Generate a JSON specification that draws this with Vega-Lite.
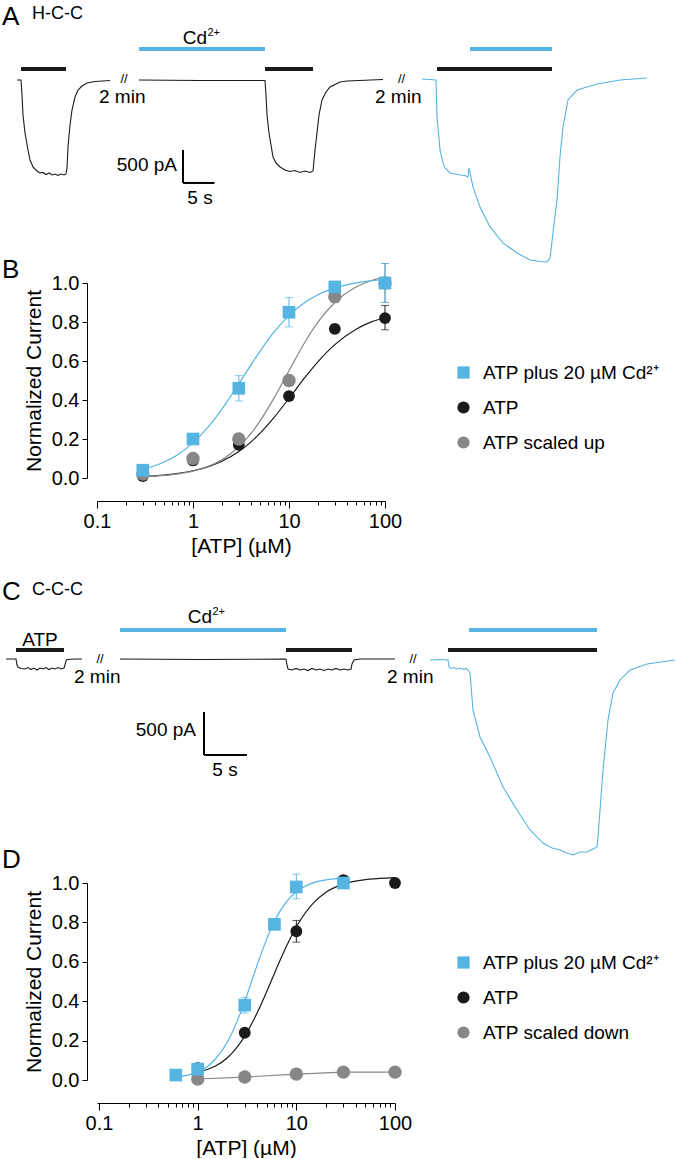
{
  "$schema": "https://vega.github.io/schema/vega-lite/v6.json",
  "background": "white",
  "padding": {"left": 2, "top": 0, "right": 0, "bottom": 0},
  "spacing": 0,
  "bounds": "flush",
  "resolve": {
    "scale": {"x": "independent", "y": "independent", "color": "independent", "shape": "independent", "stroke": "independent", "fill": "independent", "size": "independent"},
    "legend": {"color": "independent", "shape": "independent"}
  },
  "config": {
    "view": {"stroke": null},
    "font": "Liberation Sans",
    "axis": {
      "labelFont": "Liberation Sans", "titleFont": "Liberation Sans",
      "labelColor": "#000", "titleColor": "#000", "domainColor": "#000", "tickColor": "#000",
      "grid": false, "labelFontSize": 20, "titleFontSize": 21, "titleFontWeight": "normal",
      "domainWidth": 1, "tickWidth": 1, "labelOverlap": false
    },
    "legend": {"labelFont": "Liberation Sans", "labelLimit": 320},
    "text": {"font": "Liberation Sans", "color": "#000"}
  },
  "datasets": {
    "traceA": [
      {"sweep": "a1", "solution": "ATP", "t": 0, "pA": 0},
      {"sweep": "a1", "solution": "ATP", "t": 0.635, "pA": 0},
      {"sweep": "a1", "solution": "ATP", "t": 0.794, "pA": -227},
      {"sweep": "a1", "solution": "ATP", "t": 0.952, "pA": -530},
      {"sweep": "a1", "solution": "ATP", "t": 1.270, "pA": -803},
      {"sweep": "a1", "solution": "ATP", "t": 1.746, "pA": -1061},
      {"sweep": "a1", "solution": "ATP", "t": 2.063, "pA": -1212},
      {"sweep": "a1", "solution": "ATP", "t": 2.540, "pA": -1318},
      {"sweep": "a1", "solution": "ATP", "t": 3.175, "pA": -1379},
      {"sweep": "a1", "solution": "ATP", "t": 3.651, "pA": -1409},
      {"sweep": "a1", "solution": "ATP", "t": 4.127, "pA": -1401},
      {"sweep": "a1", "solution": "ATP", "t": 4.603, "pA": -1432},
      {"sweep": "a1", "solution": "ATP", "t": 5.079, "pA": -1409},
      {"sweep": "a1", "solution": "ATP", "t": 5.556, "pA": -1439},
      {"sweep": "a1", "solution": "ATP", "t": 6.032, "pA": -1424},
      {"sweep": "a1", "solution": "ATP", "t": 6.508, "pA": -1447},
      {"sweep": "a1", "solution": "ATP", "t": 6.984, "pA": -1424},
      {"sweep": "a1", "solution": "ATP", "t": 7.460, "pA": -1439},
      {"sweep": "a1", "solution": "ATP", "t": 7.778, "pA": -1424},
      {"sweep": "a1", "solution": "ATP", "t": 7.937, "pA": -1333},
      {"sweep": "a1", "solution": "ATP", "t": 8.095, "pA": -1015},
      {"sweep": "a1", "solution": "ATP", "t": 8.413, "pA": -682},
      {"sweep": "a1", "solution": "ATP", "t": 8.730, "pA": -455},
      {"sweep": "a1", "solution": "ATP", "t": 9.206, "pA": -258},
      {"sweep": "a1", "solution": "ATP", "t": 9.683, "pA": -152},
      {"sweep": "a1", "solution": "ATP", "t": 10.317, "pA": -91},
      {"sweep": "a1", "solution": "ATP", "t": 11.111, "pA": -45},
      {"sweep": "a1", "solution": "ATP", "t": 12.381, "pA": -23},
      {"sweep": "a1", "solution": "ATP", "t": 14.762, "pA": -8},
      {"sweep": "a2", "solution": "ATP", "t": 19.365, "pA": 0},
      {"sweep": "a2", "solution": "ATP", "t": 29.048, "pA": -8},
      {"sweep": "a2", "solution": "ATP", "t": 39.365, "pA": -8},
      {"sweep": "a2", "solution": "ATP", "t": 39.524, "pA": -227},
      {"sweep": "a2", "solution": "ATP", "t": 39.683, "pA": -530},
      {"sweep": "a2", "solution": "ATP", "t": 40.0, "pA": -803},
      {"sweep": "a2", "solution": "ATP", "t": 40.317, "pA": -985},
      {"sweep": "a2", "solution": "ATP", "t": 40.635, "pA": -1167},
      {"sweep": "a2", "solution": "ATP", "t": 41.111, "pA": -1257},
      {"sweep": "a2", "solution": "ATP", "t": 41.746, "pA": -1318},
      {"sweep": "a2", "solution": "ATP", "t": 42.540, "pA": -1364},
      {"sweep": "a2", "solution": "ATP", "t": 43.333, "pA": -1386},
      {"sweep": "a2", "solution": "ATP", "t": 44.127, "pA": -1371},
      {"sweep": "a2", "solution": "ATP", "t": 44.921, "pA": -1401},
      {"sweep": "a2", "solution": "ATP", "t": 45.714, "pA": -1379},
      {"sweep": "a2", "solution": "ATP", "t": 46.508, "pA": -1401},
      {"sweep": "a2", "solution": "ATP", "t": 46.984, "pA": -1379},
      {"sweep": "a2", "solution": "ATP", "t": 47.302, "pA": -1061},
      {"sweep": "a2", "solution": "ATP", "t": 47.619, "pA": -803},
      {"sweep": "a2", "solution": "ATP", "t": 47.937, "pA": -530},
      {"sweep": "a2", "solution": "ATP", "t": 48.413, "pA": -303},
      {"sweep": "a2", "solution": "ATP", "t": 49.048, "pA": -182},
      {"sweep": "a2", "solution": "ATP", "t": 49.683, "pA": -106},
      {"sweep": "a2", "solution": "ATP", "t": 51.270, "pA": -30},
      {"sweep": "a2", "solution": "ATP", "t": 52.381, "pA": -15},
      {"sweep": "a2", "solution": "ATP", "t": 58.095, "pA": 8},
      {"sweep": "a3", "solution": "ATP + Cd2+", "t": 64.286, "pA": 15},
      {"sweep": "a3", "solution": "ATP + Cd2+", "t": 66.508, "pA": 0},
      {"sweep": "a3", "solution": "ATP + Cd2+", "t": 66.667, "pA": -561},
      {"sweep": "a3", "solution": "ATP + Cd2+", "t": 67.143, "pA": -1061},
      {"sweep": "a3", "solution": "ATP + Cd2+", "t": 67.619, "pA": -1257},
      {"sweep": "a3", "solution": "ATP + Cd2+", "t": 67.937, "pA": -1333},
      {"sweep": "a3", "solution": "ATP + Cd2+", "t": 68.730, "pA": -1409},
      {"sweep": "a3", "solution": "ATP + Cd2+", "t": 69.524, "pA": -1424},
      {"sweep": "a3", "solution": "ATP + Cd2+", "t": 70.317, "pA": -1439},
      {"sweep": "a3", "solution": "ATP + Cd2+", "t": 71.111, "pA": -1447},
      {"sweep": "a3", "solution": "ATP + Cd2+", "t": 71.587, "pA": -1470},
      {"sweep": "a3", "solution": "ATP + Cd2+", "t": 71.746, "pA": -1333},
      {"sweep": "a3", "solution": "ATP + Cd2+", "t": 72.381, "pA": -1621},
      {"sweep": "a3", "solution": "ATP + Cd2+", "t": 73.492, "pA": -1924},
      {"sweep": "a3", "solution": "ATP + Cd2+", "t": 75.079, "pA": -2227},
      {"sweep": "a3", "solution": "ATP + Cd2+", "t": 77.143, "pA": -2469},
      {"sweep": "a3", "solution": "ATP + Cd2+", "t": 79.365, "pA": -2621},
      {"sweep": "a3", "solution": "ATP + Cd2+", "t": 81.429, "pA": -2727},
      {"sweep": "a3", "solution": "ATP + Cd2+", "t": 83.016, "pA": -2750},
      {"sweep": "a3", "solution": "ATP + Cd2+", "t": 84.127, "pA": -2757},
      {"sweep": "a3", "solution": "ATP + Cd2+", "t": 84.603, "pA": -2697},
      {"sweep": "a3", "solution": "ATP + Cd2+", "t": 85.079, "pA": -2318},
      {"sweep": "a3", "solution": "ATP + Cd2+", "t": 85.714, "pA": -1818},
      {"sweep": "a3", "solution": "ATP + Cd2+", "t": 86.190, "pA": -1167},
      {"sweep": "a3", "solution": "ATP + Cd2+", "t": 86.667, "pA": -712},
      {"sweep": "a3", "solution": "ATP + Cd2+", "t": 87.460, "pA": -303},
      {"sweep": "a3", "solution": "ATP + Cd2+", "t": 88.889, "pA": -152},
      {"sweep": "a3", "solution": "ATP + Cd2+", "t": 92.063, "pA": -61},
      {"sweep": "a3", "solution": "ATP + Cd2+", "t": 95.714, "pA": 0},
      {"sweep": "a3", "solution": "ATP + Cd2+", "t": 100.0, "pA": 30}
    ],
    "barsA": [
      {"solution": "ATP", "start": 0.635, "end": 7.778, "level": 167},
      {"solution": "ATP", "start": 39.365, "end": 46.984, "level": 167},
      {"solution": "ATP", "start": 66.667, "end": 84.921, "level": 167},
      {"solution": "Cd2+", "start": 19.365, "end": 39.365, "level": 470},
      {"solution": "Cd2+", "start": 71.905, "end": 84.921, "level": 470}
    ],
    "scaleA": [
      {"t1": 26.349, "t2": 26.349, "p1": -1060, "p2": -1560},
      {"t1": 26.349, "t2": 31.349, "p1": -1560, "p2": -1560}
    ],
    "textA": [
      {"role": "letter", "label": "A", "t": -2.381, "pA": 833},
      {"role": "letter", "label": "B", "t": -2.381, "pA": -3000},
      {"role": "sub", "label": "H-C-C", "t": 2.381, "pA": 924},
      {"role": "rmid", "label": "Cd", "t": 30.159, "pA": 636},
      {"role": "sup", "label": "2+", "t": 30.238, "pA": 712},
      {"role": "lbase", "label": "2 min", "t": 13.016, "pA": -348},
      {"role": "lbase", "label": "2 min", "t": 56.825, "pA": -348},
      {"role": "brk", "label": "//", "t": 16.984, "pA": 10},
      {"role": "brk", "label": "//", "t": 61.032, "pA": 10},
      {"role": "rmid", "label": "500 pA", "t": 25.397, "pA": -1288},
      {"role": "cmid", "label": "5 s", "t": 29.048, "pA": -1788}
    ],
    "traceC": [
      {"sweep": "c1", "solution": "ATP", "t": 0, "pA": 0},
      {"sweep": "c1", "solution": "ATP", "t": 1.163, "pA": 0},
      {"sweep": "c1", "solution": "ATP", "t": 1.279, "pA": -70},
      {"sweep": "c1", "solution": "ATP", "t": 1.395, "pA": -93},
      {"sweep": "c1", "solution": "ATP", "t": 1.744, "pA": -110},
      {"sweep": "c1", "solution": "ATP", "t": 2.209, "pA": -116},
      {"sweep": "c1", "solution": "ATP", "t": 2.558, "pA": -99},
      {"sweep": "c1", "solution": "ATP", "t": 2.907, "pA": -122},
      {"sweep": "c1", "solution": "ATP", "t": 3.256, "pA": -105},
      {"sweep": "c1", "solution": "ATP", "t": 3.605, "pA": -128},
      {"sweep": "c1", "solution": "ATP", "t": 3.953, "pA": -105},
      {"sweep": "c1", "solution": "ATP", "t": 4.302, "pA": -116},
      {"sweep": "c1", "solution": "ATP", "t": 4.651, "pA": -99},
      {"sweep": "c1", "solution": "ATP", "t": 5.0, "pA": -122},
      {"sweep": "c1", "solution": "ATP", "t": 5.349, "pA": -105},
      {"sweep": "c1", "solution": "ATP", "t": 5.698, "pA": -116},
      {"sweep": "c1", "solution": "ATP", "t": 6.047, "pA": -99},
      {"sweep": "c1", "solution": "ATP", "t": 6.395, "pA": -116},
      {"sweep": "c1", "solution": "ATP", "t": 6.744, "pA": -105},
      {"sweep": "c1", "solution": "ATP", "t": 6.860, "pA": -70},
      {"sweep": "c1", "solution": "ATP", "t": 6.977, "pA": -23},
      {"sweep": "c1", "solution": "ATP", "t": 7.093, "pA": -6},
      {"sweep": "c1", "solution": "ATP", "t": 8.023, "pA": 0},
      {"sweep": "c1", "solution": "ATP", "t": 8.837, "pA": 0},
      {"sweep": "c2", "solution": "ATP", "t": 13.256, "pA": 0},
      {"sweep": "c2", "solution": "ATP", "t": 22.558, "pA": -6},
      {"sweep": "c2", "solution": "ATP", "t": 32.558, "pA": 0},
      {"sweep": "c2", "solution": "ATP", "t": 32.674, "pA": -70},
      {"sweep": "c2", "solution": "ATP", "t": 32.791, "pA": -116},
      {"sweep": "c2", "solution": "ATP", "t": 33.256, "pA": -128},
      {"sweep": "c2", "solution": "ATP", "t": 33.721, "pA": -110},
      {"sweep": "c2", "solution": "ATP", "t": 34.186, "pA": -128},
      {"sweep": "c2", "solution": "ATP", "t": 34.651, "pA": -116},
      {"sweep": "c2", "solution": "ATP", "t": 35.116, "pA": -134},
      {"sweep": "c2", "solution": "ATP", "t": 35.581, "pA": -110},
      {"sweep": "c2", "solution": "ATP", "t": 36.047, "pA": -128},
      {"sweep": "c2", "solution": "ATP", "t": 36.512, "pA": -116},
      {"sweep": "c2", "solution": "ATP", "t": 36.977, "pA": -134},
      {"sweep": "c2", "solution": "ATP", "t": 37.442, "pA": -116},
      {"sweep": "c2", "solution": "ATP", "t": 37.907, "pA": -128},
      {"sweep": "c2", "solution": "ATP", "t": 38.372, "pA": -110},
      {"sweep": "c2", "solution": "ATP", "t": 38.837, "pA": -128},
      {"sweep": "c2", "solution": "ATP", "t": 39.302, "pA": -116},
      {"sweep": "c2", "solution": "ATP", "t": 39.767, "pA": -128},
      {"sweep": "c2", "solution": "ATP", "t": 40.116, "pA": -116},
      {"sweep": "c2", "solution": "ATP", "t": 40.233, "pA": -58},
      {"sweep": "c2", "solution": "ATP", "t": 40.465, "pA": -12},
      {"sweep": "c2", "solution": "ATP", "t": 41.163, "pA": 0},
      {"sweep": "c2", "solution": "ATP", "t": 45.233, "pA": 0},
      {"sweep": "c3", "solution": "ATP + Cd2+", "t": 49.302, "pA": -12},
      {"sweep": "c3", "solution": "ATP + Cd2+", "t": 50.465, "pA": -6},
      {"sweep": "c3", "solution": "ATP + Cd2+", "t": 51.395, "pA": -12},
      {"sweep": "c3", "solution": "ATP + Cd2+", "t": 51.512, "pA": -93},
      {"sweep": "c3", "solution": "ATP + Cd2+", "t": 51.744, "pA": -110},
      {"sweep": "c3", "solution": "ATP + Cd2+", "t": 52.093, "pA": -99},
      {"sweep": "c3", "solution": "ATP + Cd2+", "t": 52.442, "pA": -116},
      {"sweep": "c3", "solution": "ATP + Cd2+", "t": 52.791, "pA": -105},
      {"sweep": "c3", "solution": "ATP + Cd2+", "t": 53.140, "pA": -122},
      {"sweep": "c3", "solution": "ATP + Cd2+", "t": 53.488, "pA": -110},
      {"sweep": "c3", "solution": "ATP + Cd2+", "t": 53.721, "pA": -128},
      {"sweep": "c3", "solution": "ATP + Cd2+", "t": 53.953, "pA": -163},
      {"sweep": "c3", "solution": "ATP + Cd2+", "t": 54.302, "pA": -593},
      {"sweep": "c3", "solution": "ATP + Cd2+", "t": 55.116, "pA": -907},
      {"sweep": "c3", "solution": "ATP + Cd2+", "t": 56.279, "pA": -1140},
      {"sweep": "c3", "solution": "ATP + Cd2+", "t": 57.791, "pA": -1488},
      {"sweep": "c3", "solution": "ATP + Cd2+", "t": 59.419, "pA": -1756},
      {"sweep": "c3", "solution": "ATP + Cd2+", "t": 60.930, "pA": -1988},
      {"sweep": "c3", "solution": "ATP + Cd2+", "t": 62.442, "pA": -2140},
      {"sweep": "c3", "solution": "ATP + Cd2+", "t": 63.488, "pA": -2198},
      {"sweep": "c3", "solution": "ATP + Cd2+", "t": 64.419, "pA": -2221},
      {"sweep": "c3", "solution": "ATP + Cd2+", "t": 65.233, "pA": -2256},
      {"sweep": "c3", "solution": "ATP + Cd2+", "t": 65.930, "pA": -2279},
      {"sweep": "c3", "solution": "ATP + Cd2+", "t": 66.744, "pA": -2244},
      {"sweep": "c3", "solution": "ATP + Cd2+", "t": 67.558, "pA": -2244},
      {"sweep": "c3", "solution": "ATP + Cd2+", "t": 68.256, "pA": -2209},
      {"sweep": "c3", "solution": "ATP + Cd2+", "t": 68.721, "pA": -2186},
      {"sweep": "c3", "solution": "ATP + Cd2+", "t": 68.837, "pA": -2070},
      {"sweep": "c3", "solution": "ATP + Cd2+", "t": 69.419, "pA": -1291},
      {"sweep": "c3", "solution": "ATP + Cd2+", "t": 70.0, "pA": -709},
      {"sweep": "c3", "solution": "ATP + Cd2+", "t": 70.581, "pA": -395},
      {"sweep": "c3", "solution": "ATP + Cd2+", "t": 71.395, "pA": -244},
      {"sweep": "c3", "solution": "ATP + Cd2+", "t": 72.558, "pA": -128},
      {"sweep": "c3", "solution": "ATP + Cd2+", "t": 74.535, "pA": -58},
      {"sweep": "c3", "solution": "ATP + Cd2+", "t": 77.791, "pA": -12}
    ],
    "barsC": [
      {"solution": "ATP", "start": 1.163, "end": 6.744, "level": 105},
      {"solution": "ATP", "start": 32.558, "end": 40.233, "level": 105},
      {"solution": "ATP", "start": 51.395, "end": 68.721, "level": 105},
      {"solution": "Cd2+", "start": 13.256, "end": 32.558, "level": 337},
      {"solution": "Cd2+", "start": 53.837, "end": 68.721, "level": 337}
    ],
    "scaleC": [
      {"t1": 23.023, "t2": 23.023, "p1": -616, "p2": -1116},
      {"t1": 23.023, "t2": 28.023, "p1": -1116, "p2": -1116}
    ],
    "textC": [
      {"role": "letter", "label": "C", "t": -0.465, "pA": 686},
      {"role": "letter", "label": "D", "t": -0.465, "pA": -2430},
      {"role": "sub", "label": "C-C-C", "t": 3.023, "pA": 744},
      {"role": "cmid", "label": "ATP", "t": 3.953, "pA": 221},
      {"role": "rmid", "label": "Cd", "t": 23.953, "pA": 488},
      {"role": "sup", "label": "2+", "t": 24.012, "pA": 547},
      {"role": "lbase", "label": "2 min", "t": 7.907, "pA": -279},
      {"role": "lbase", "label": "2 min", "t": 44.302, "pA": -279},
      {"role": "brk", "label": "//", "t": 10.930, "pA": 0},
      {"role": "brk", "label": "//", "t": 47.326, "pA": 0},
      {"role": "rmid", "label": "500 pA", "t": 22.093, "pA": -826},
      {"role": "cmid", "label": "5 s", "t": 25.465, "pA": -1291}
    ],
    "fitB": [
      {"series": "ATP", "atp": 0.3, "v": 0.008}, {"series": "ATP", "atp": 0.5, "v": 0.015}, {"series": "ATP", "atp": 0.7, "v": 0.024},
      {"series": "ATP", "atp": 1, "v": 0.037}, {"series": "ATP", "atp": 1.5, "v": 0.061}, {"series": "ATP", "atp": 2, "v": 0.086},
      {"series": "ATP", "atp": 3, "v": 0.136}, {"series": "ATP", "atp": 4, "v": 0.184}, {"series": "ATP", "atp": 5, "v": 0.23},
      {"series": "ATP", "atp": 7, "v": 0.311}, {"series": "ATP", "atp": 10, "v": 0.408}, {"series": "ATP", "atp": 15, "v": 0.522},
      {"series": "ATP", "atp": 20, "v": 0.596}, {"series": "ATP", "atp": 30, "v": 0.684}, {"series": "ATP", "atp": 50, "v": 0.763},
      {"series": "ATP", "atp": 70, "v": 0.798}, {"series": "ATP", "atp": 100, "v": 0.823},
      {"series": "ATP scaled up", "atp": 0.3, "v": 0.006}, {"series": "ATP scaled up", "atp": 0.5, "v": 0.013}, {"series": "ATP scaled up", "atp": 0.7, "v": 0.021},
      {"series": "ATP scaled up", "atp": 1, "v": 0.035}, {"series": "ATP scaled up", "atp": 1.5, "v": 0.063}, {"series": "ATP scaled up", "atp": 2, "v": 0.093},
      {"series": "ATP scaled up", "atp": 3, "v": 0.16}, {"series": "ATP scaled up", "atp": 4, "v": 0.227}, {"series": "ATP scaled up", "atp": 5, "v": 0.293},
      {"series": "ATP scaled up", "atp": 7, "v": 0.411}, {"series": "ATP scaled up", "atp": 10, "v": 0.55}, {"series": "ATP scaled up", "atp": 15, "v": 0.705},
      {"series": "ATP scaled up", "atp": 20, "v": 0.799}, {"series": "ATP scaled up", "atp": 30, "v": 0.9}, {"series": "ATP scaled up", "atp": 50, "v": 0.979},
      {"series": "ATP scaled up", "atp": 70, "v": 1.01}, {"series": "ATP scaled up", "atp": 100, "v": 1.03},
      {"series": "ATP plus 20 µM Cd²⁺", "atp": 0.3, "v": 0.044}, {"series": "ATP plus 20 µM Cd²⁺", "atp": 0.5, "v": 0.082}, {"series": "ATP plus 20 µM Cd²⁺", "atp": 0.7, "v": 0.121},
      {"series": "ATP plus 20 µM Cd²⁺", "atp": 1, "v": 0.18}, {"series": "ATP plus 20 µM Cd²⁺", "atp": 1.5, "v": 0.272}, {"series": "ATP plus 20 µM Cd²⁺", "atp": 2, "v": 0.353},
      {"series": "ATP plus 20 µM Cd²⁺", "atp": 3, "v": 0.483}, {"series": "ATP plus 20 µM Cd²⁺", "atp": 4, "v": 0.579}, {"series": "ATP plus 20 µM Cd²⁺", "atp": 5, "v": 0.651},
      {"series": "ATP plus 20 µM Cd²⁺", "atp": 7, "v": 0.749}, {"series": "ATP plus 20 µM Cd²⁺", "atp": 10, "v": 0.833}, {"series": "ATP plus 20 µM Cd²⁺", "atp": 15, "v": 0.904},
      {"series": "ATP plus 20 µM Cd²⁺", "atp": 20, "v": 0.94}, {"series": "ATP plus 20 µM Cd²⁺", "atp": 30, "v": 0.975}, {"series": "ATP plus 20 µM Cd²⁺", "atp": 50, "v": 1.001},
      {"series": "ATP plus 20 µM Cd²⁺", "atp": 70, "v": 1.011}, {"series": "ATP plus 20 µM Cd²⁺", "atp": 100, "v": 1.018}
    ],
    "ptsB": [
      {"series": "ATP", "atp": 0.3, "v": 0.01},
      {"series": "ATP", "atp": 1, "v": 0.09},
      {"series": "ATP", "atp": 3, "v": 0.17},
      {"series": "ATP", "atp": 10, "v": 0.42},
      {"series": "ATP", "atp": 30, "v": 0.765, "lo": 0.745, "hi": 0.785},
      {"series": "ATP", "atp": 100, "v": 0.82, "lo": 0.76, "hi": 0.885},
      {"series": "ATP scaled up", "atp": 0.3, "v": 0.02},
      {"series": "ATP scaled up", "atp": 1, "v": 0.1},
      {"series": "ATP scaled up", "atp": 3, "v": 0.2},
      {"series": "ATP scaled up", "atp": 10, "v": 0.5},
      {"series": "ATP scaled up", "atp": 30, "v": 0.93, "lo": 0.9, "hi": 0.96},
      {"series": "ATP scaled up", "atp": 100, "v": 1.0, "lo": 0.9, "hi": 1.1},
      {"series": "ATP plus 20 µM Cd²⁺", "atp": 0.3, "v": 0.04},
      {"series": "ATP plus 20 µM Cd²⁺", "atp": 1, "v": 0.2, "lo": 0.175, "hi": 0.225},
      {"series": "ATP plus 20 µM Cd²⁺", "atp": 3, "v": 0.46, "lo": 0.395, "hi": 0.525},
      {"series": "ATP plus 20 µM Cd²⁺", "atp": 10, "v": 0.85, "lo": 0.775, "hi": 0.925},
      {"series": "ATP plus 20 µM Cd²⁺", "atp": 30, "v": 0.98, "lo": 0.96, "hi": 1.0},
      {"series": "ATP plus 20 µM Cd²⁺", "atp": 100, "v": 1.0, "lo": 0.9, "hi": 1.1}
    ],
    "fitD": [
      {"series": "ATP", "atp": 1, "v": 0.04}, {"series": "ATP", "atp": 1.5, "v": 0.07}, {"series": "ATP", "atp": 2, "v": 0.113},
      {"series": "ATP", "atp": 2.5, "v": 0.166}, {"series": "ATP", "atp": 3, "v": 0.223}, {"series": "ATP", "atp": 4, "v": 0.34},
      {"series": "ATP", "atp": 5, "v": 0.448}, {"series": "ATP", "atp": 6, "v": 0.541}, {"series": "ATP", "atp": 7, "v": 0.619},
      {"series": "ATP", "atp": 8, "v": 0.683}, {"series": "ATP", "atp": 10, "v": 0.777}, {"series": "ATP", "atp": 15, "v": 0.9},
      {"series": "ATP", "atp": 20, "v": 0.953}, {"series": "ATP", "atp": 30, "v": 0.994}, {"series": "ATP", "atp": 50, "v": 1.017},
      {"series": "ATP", "atp": 70, "v": 1.023}, {"series": "ATP", "atp": 100, "v": 1.027},
      {"series": "ATP plus 20 µM Cd²⁺", "atp": 0.6, "v": 0.015}, {"series": "ATP plus 20 µM Cd²⁺", "atp": 0.8, "v": 0.025}, {"series": "ATP plus 20 µM Cd²⁺", "atp": 1, "v": 0.04},
      {"series": "ATP plus 20 µM Cd²⁺", "atp": 1.5, "v": 0.104}, {"series": "ATP plus 20 µM Cd²⁺", "atp": 2, "v": 0.193}, {"series": "ATP plus 20 µM Cd²⁺", "atp": 2.5, "v": 0.295},
      {"series": "ATP plus 20 µM Cd²⁺", "atp": 3, "v": 0.4}, {"series": "ATP plus 20 µM Cd²⁺", "atp": 4, "v": 0.582}, {"series": "ATP plus 20 µM Cd²⁺", "atp": 5, "v": 0.715},
      {"series": "ATP plus 20 µM Cd²⁺", "atp": 6, "v": 0.805}, {"series": "ATP plus 20 µM Cd²⁺", "atp": 7, "v": 0.866}, {"series": "ATP plus 20 µM Cd²⁺", "atp": 8, "v": 0.907},
      {"series": "ATP plus 20 µM Cd²⁺", "atp": 10, "v": 0.956}, {"series": "ATP plus 20 µM Cd²⁺", "atp": 15, "v": 1.002}, {"series": "ATP plus 20 µM Cd²⁺", "atp": 20, "v": 1.016},
      {"series": "ATP plus 20 µM Cd²⁺", "atp": 30, "v": 1.025}
    ],
    "ptsD": [
      {"series": "ATP scaled down", "atp": 1, "v": 0.005},
      {"series": "ATP scaled down", "atp": 3, "v": 0.015},
      {"series": "ATP scaled down", "atp": 10, "v": 0.03},
      {"series": "ATP scaled down", "atp": 30, "v": 0.04},
      {"series": "ATP scaled down", "atp": 100, "v": 0.04},
      {"series": "ATP", "atp": 1, "v": 0.06},
      {"series": "ATP", "atp": 3, "v": 0.24},
      {"series": "ATP", "atp": 10, "v": 0.755, "lo": 0.70, "hi": 0.81},
      {"series": "ATP", "atp": 30, "v": 1.015},
      {"series": "ATP", "atp": 100, "v": 1.0},
      {"series": "ATP plus 20 µM Cd²⁺", "atp": 0.6, "v": 0.025},
      {"series": "ATP plus 20 µM Cd²⁺", "atp": 1, "v": 0.055, "lo": 0.03, "hi": 0.085},
      {"series": "ATP plus 20 µM Cd²⁺", "atp": 3, "v": 0.38, "lo": 0.34, "hi": 0.42},
      {"series": "ATP plus 20 µM Cd²⁺", "atp": 6, "v": 0.79},
      {"series": "ATP plus 20 µM Cd²⁺", "atp": 10, "v": 0.98, "lo": 0.92, "hi": 1.045},
      {"series": "ATP plus 20 µM Cd²⁺", "atp": 30, "v": 1.0}
    ]
  },
  "vconcat": [
    {
      "width": 580, "height": 283,
      "layer": [
        {
          "data": {"name": "traceA"},
          "mark": {"type": "line", "strokeWidth": 1.1},
          "encoding": {
            "x": {"field": "t", "type": "quantitative", "scale": {"domain": [12.698, 104.762], "nice": false, "zero": false}, "axis": null},
            "y": {"field": "pA", "type": "quantitative", "scale": {"domain": [-3076, 1212], "nice": false, "zero": false}, "axis": null},
            "detail": {"field": "sweep"},
            "color": {"field": "solution", "type": "nominal", "scale": {"domain": ["ATP", "ATP + Cd2+", "Cd2+"], "range": ["#1a1a1a", "#56b4e2", "#56b4e2"]}, "legend": null}
          }
        },
        {
          "data": {"name": "barsA"},
          "mark": {"type": "rule", "strokeWidth": 4},
          "encoding": {
            "x": {"field": "start", "type": "quantitative"},
            "x2": {"field": "end"},
            "y": {"field": "level", "type": "quantitative"},
            "color": {"field": "solution", "type": "nominal", "legend": null}
          }
        },
        {
          "data": {"name": "scaleA"},
          "mark": {"type": "rule", "strokeWidth": 2, "color": "#000"},
          "encoding": {
            "x": {"field": "t1", "type": "quantitative"}, "x2": {"field": "t2"},
            "y": {"field": "p1", "type": "quantitative"}, "y2": {"field": "p2"}
          }
        },
        {"data": {"name": "textA"}, "transform": [{"filter": "datum.role == 'letter'"}],
         "mark": {"type": "text", "fontSize": 26, "align": "left", "baseline": "alphabetic"},
         "encoding": {"x": {"field": "t", "type": "quantitative"}, "y": {"field": "pA", "type": "quantitative"}, "text": {"field": "label"}}},
        {"data": {"name": "textA"}, "transform": [{"filter": "datum.role == 'sub'"}],
         "mark": {"type": "text", "fontSize": 18, "align": "left", "baseline": "alphabetic"},
         "encoding": {"x": {"field": "t", "type": "quantitative"}, "y": {"field": "pA", "type": "quantitative"}, "text": {"field": "label"}}},
        {"data": {"name": "textA"}, "transform": [{"filter": "datum.role == 'rmid'"}],
         "mark": {"type": "text", "fontSize": 19, "align": "right", "baseline": "middle"},
         "encoding": {"x": {"field": "t", "type": "quantitative"}, "y": {"field": "pA", "type": "quantitative"}, "text": {"field": "label"}}},
        {"data": {"name": "textA"}, "transform": [{"filter": "datum.role == 'lbase'"}],
         "mark": {"type": "text", "fontSize": 19, "align": "left", "baseline": "alphabetic"},
         "encoding": {"x": {"field": "t", "type": "quantitative"}, "y": {"field": "pA", "type": "quantitative"}, "text": {"field": "label"}}},
        {"data": {"name": "textA"}, "transform": [{"filter": "datum.role == 'cmid'"}],
         "mark": {"type": "text", "fontSize": 19, "align": "center", "baseline": "middle"},
         "encoding": {"x": {"field": "t", "type": "quantitative"}, "y": {"field": "pA", "type": "quantitative"}, "text": {"field": "label"}}},
        {"data": {"name": "textA"}, "transform": [{"filter": "datum.role == 'sup'"}],
         "mark": {"type": "text", "fontSize": 11, "align": "left", "baseline": "middle"},
         "encoding": {"x": {"field": "t", "type": "quantitative"}, "y": {"field": "pA", "type": "quantitative"}, "text": {"field": "label"}}},
        {"data": {"name": "textA"}, "transform": [{"filter": "datum.role == 'brk'"}],
         "mark": {"type": "text", "fontSize": 13, "align": "center", "baseline": "middle"},
         "encoding": {"x": {"field": "t", "type": "quantitative"}, "y": {"field": "pA", "type": "quantitative"}, "text": {"field": "label"}}}
      ]
    },
    {
      "width": 288, "height": 195,
      "layer": [
        {
          "data": {"name": "fitB"},
          "mark": {"type": "line", "strokeWidth": 1.2, "interpolate": "monotone"},
          "encoding": {
            "x": {"field": "atp", "type": "quantitative", "scale": {"type": "log", "domain": [0.1, 100], "nice": false},
                  "axis": {"title": "[ATP] (µM)", "offset": 23, "format": "~g", "tickCount": 40,
                           "values": [0.1,0.2,0.3,0.4,0.5,0.6,0.7,0.8,0.9,1,2,3,4,5,6,7,8,9,10,20,30,40,50,60,70,80,90,100],
                           "labelExpr": "(datum.value == 0.1 || datum.value == 1 || datum.value == 10 || datum.value == 100) ? datum.label : ''",
                           "tickSize": {"condition": {"test": "datum.value == 0.1 || datum.value == 1 || datum.value == 10 || datum.value == 100", "value": 7}, "value": 4},
                           "labelPadding": 3, "titlePadding": 4, "labelFlush": false, "labelOverlap": false}},
            "y": {"field": "v", "type": "quantitative", "scale": {"domain": [0, 1], "nice": false, "zero": false},
                  "axis": {"title": "Normalized Current", "offset": 10, "values": [0, 0.2, 0.4, 0.6, 0.8, 1], "tickCount": 10, "format": ".1f",
                           "tickSize": 5, "labelPadding": 3, "titlePadding": 7, "labelOverlap": false, "labelFlush": false}},
            "stroke": {"field": "series", "type": "nominal", "scale": {"domain": ["ATP", "ATP scaled up", "ATP plus 20 µM Cd²⁺"], "range": ["#1a1a1a", "#878787", "#56b4e2"]}, "legend": null}
          }
        },
        {
          "data": {"name": "ptsB"}, "transform": [{"filter": "isValid(datum.lo)"}],
          "mark": {"type": "rule", "strokeWidth": 1},
          "encoding": {
            "x": {"field": "atp", "type": "quantitative"},
            "y": {"field": "lo", "type": "quantitative"}, "y2": {"field": "hi"},
            "stroke": {"field": "series", "type": "nominal", "legend": null}
          }
        },
        {
          "data": {"name": "ptsB"}, "transform": [{"filter": "isValid(datum.lo)"}, {"fold": ["lo", "hi"], "as": ["end", "ev"]}],
          "mark": {"type": "tick", "orient": "horizontal", "size": 8, "thickness": 1},
          "encoding": {
            "x": {"field": "atp", "type": "quantitative"},
            "y": {"field": "ev", "type": "quantitative"},
            "fill": {"field": "series", "type": "nominal", "scale": {"domain": ["ATP scaled up", "ATP", "ATP plus 20 µM Cd²⁺"], "range": ["#878787", "#1a1a1a", "#56b4e2"]}, "legend": null}
          }
        },
        {
          "data": {"name": "ptsB"},
          "mark": {"type": "point", "filled": true, "opacity": 1},
          "encoding": {
            "x": {"field": "atp", "type": "quantitative"},
            "y": {"field": "v", "type": "quantitative"},
            "color": {"field": "series", "type": "nominal", "scale": {"domain": ["ATP plus 20 µM Cd²⁺", "ATP", "ATP scaled up"], "range": ["#56b4e2", "#1a1a1a", "#878787"]},
                      "legend": {"orient": "none", "legendX": 357, "legendY": 80, "title": null, "labelFontSize": 19, "labelColor": "#000", "symbolSize": 150, "rowPadding": 15, "labelOffset": 10, "padding": 0, "labelLimit": 320}},
            "shape": {"field": "series", "type": "nominal", "scale": {"domain": ["ATP plus 20 µM Cd²⁺", "ATP", "ATP scaled up"], "range": ["square", "circle", "circle"]}},
            "size": {"field": "series", "type": "nominal", "scale": {"domain": ["ATP scaled up", "ATP plus 20 µM Cd²⁺", "ATP"], "range": [180, 140, 180]}, "legend": null}
          }
        }
      ]
    },
    {
      "width": 580, "height": 405,
      "layer": [
        {
          "data": {"name": "traceC"},
          "mark": {"type": "line", "strokeWidth": 1.1},
          "encoding": {
            "x": {"field": "t", "type": "quantitative", "scale": {"domain": [10.581, 78.023], "nice": false, "zero": false}, "axis": null},
            "y": {"field": "pA", "type": "quantitative", "scale": {"domain": [-2605, 2105], "nice": false, "zero": false}, "axis": null},
            "detail": {"field": "sweep"},
            "color": {"field": "solution", "type": "nominal", "scale": {"domain": ["ATP", "ATP + Cd2+", "Cd2+"], "range": ["#1a1a1a", "#56b4e2", "#56b4e2"]}, "legend": null}
          }
        },
        {
          "data": {"name": "barsC"},
          "mark": {"type": "rule", "strokeWidth": 4},
          "encoding": {
            "x": {"field": "start", "type": "quantitative"},
            "x2": {"field": "end"},
            "y": {"field": "level", "type": "quantitative"},
            "color": {"field": "solution", "type": "nominal", "legend": null}
          }
        },
        {
          "data": {"name": "scaleC"},
          "mark": {"type": "rule", "strokeWidth": 2, "color": "#000"},
          "encoding": {
            "x": {"field": "t1", "type": "quantitative"}, "x2": {"field": "t2"},
            "y": {"field": "p1", "type": "quantitative"}, "y2": {"field": "p2"}
          }
        },
        {"data": {"name": "textC"}, "transform": [{"filter": "datum.role == 'letter'"}],
         "mark": {"type": "text", "fontSize": 26, "align": "left", "baseline": "alphabetic"},
         "encoding": {"x": {"field": "t", "type": "quantitative"}, "y": {"field": "pA", "type": "quantitative"}, "text": {"field": "label"}}},
        {"data": {"name": "textC"}, "transform": [{"filter": "datum.role == 'sub'"}],
         "mark": {"type": "text", "fontSize": 18, "align": "left", "baseline": "alphabetic"},
         "encoding": {"x": {"field": "t", "type": "quantitative"}, "y": {"field": "pA", "type": "quantitative"}, "text": {"field": "label"}}},
        {"data": {"name": "textC"}, "transform": [{"filter": "datum.role == 'rmid'"}],
         "mark": {"type": "text", "fontSize": 19, "align": "right", "baseline": "middle"},
         "encoding": {"x": {"field": "t", "type": "quantitative"}, "y": {"field": "pA", "type": "quantitative"}, "text": {"field": "label"}}},
        {"data": {"name": "textC"}, "transform": [{"filter": "datum.role == 'lbase'"}],
         "mark": {"type": "text", "fontSize": 19, "align": "left", "baseline": "alphabetic"},
         "encoding": {"x": {"field": "t", "type": "quantitative"}, "y": {"field": "pA", "type": "quantitative"}, "text": {"field": "label"}}},
        {"data": {"name": "textC"}, "transform": [{"filter": "datum.role == 'cmid'"}],
         "mark": {"type": "text", "fontSize": 19, "align": "center", "baseline": "middle"},
         "encoding": {"x": {"field": "t", "type": "quantitative"}, "y": {"field": "pA", "type": "quantitative"}, "text": {"field": "label"}}},
        {"data": {"name": "textC"}, "transform": [{"filter": "datum.role == 'sup'"}],
         "mark": {"type": "text", "fontSize": 11, "align": "left", "baseline": "middle"},
         "encoding": {"x": {"field": "t", "type": "quantitative"}, "y": {"field": "pA", "type": "quantitative"}, "text": {"field": "label"}}},
        {"data": {"name": "textC"}, "transform": [{"filter": "datum.role == 'brk'"}],
         "mark": {"type": "text", "fontSize": 13, "align": "center", "baseline": "middle"},
         "encoding": {"x": {"field": "t", "type": "quantitative"}, "y": {"field": "pA", "type": "quantitative"}, "text": {"field": "label"}}}
      ]
    },
    {
      "width": 298, "height": 197,
      "layer": [
        {
          "data": {"name": "fitD"},
          "mark": {"type": "line", "strokeWidth": 1.2, "interpolate": "monotone"},
          "encoding": {
            "x": {"field": "atp", "type": "quantitative", "scale": {"type": "log", "domain": [0.0954, 100], "nice": false},
                  "axis": {"title": "[ATP] (µM)", "offset": 23, "format": "~g", "tickCount": 40,
                           "values": [0.1,0.2,0.3,0.4,0.5,0.6,0.7,0.8,0.9,1,2,3,4,5,6,7,8,9,10,20,30,40,50,60,70,80,90,100],
                           "labelExpr": "(datum.value == 0.1 || datum.value == 1 || datum.value == 10 || datum.value == 100) ? datum.label : ''",
                           "tickSize": {"condition": {"test": "datum.value == 0.1 || datum.value == 1 || datum.value == 10 || datum.value == 100", "value": 7}, "value": 4},
                           "labelPadding": 3, "titlePadding": 4, "labelFlush": false, "labelOverlap": false}},
            "y": {"field": "v", "type": "quantitative", "scale": {"domain": [0, 1], "nice": false, "zero": false},
                  "axis": {"title": "Normalized Current", "offset": 10, "values": [0, 0.2, 0.4, 0.6, 0.8, 1], "tickCount": 10, "format": ".1f",
                           "tickSize": 5, "labelPadding": 3, "titlePadding": 7, "labelOverlap": false, "labelFlush": false}},
            "stroke": {"field": "series", "type": "nominal", "scale": {"domain": ["ATP", "ATP scaled down", "ATP plus 20 µM Cd²⁺"], "range": ["#1a1a1a", "#878787", "#56b4e2"]}, "legend": null}
          }
        },
        {
          "data": {"name": "ptsD"}, "transform": [{"filter": "datum.series == 'ATP scaled down'"}],
          "mark": {"type": "line", "strokeWidth": 1.2},
          "encoding": {
            "x": {"field": "atp", "type": "quantitative"},
            "y": {"field": "v", "type": "quantitative"},
            "stroke": {"field": "series", "type": "nominal", "legend": null}
          }
        },
        {
          "data": {"name": "ptsD"}, "transform": [{"filter": "isValid(datum.lo)"}],
          "mark": {"type": "rule", "strokeWidth": 1},
          "encoding": {
            "x": {"field": "atp", "type": "quantitative"},
            "y": {"field": "lo", "type": "quantitative"}, "y2": {"field": "hi"},
            "stroke": {"field": "series", "type": "nominal", "legend": null}
          }
        },
        {
          "data": {"name": "ptsD"}, "transform": [{"filter": "isValid(datum.lo)"}, {"fold": ["lo", "hi"], "as": ["end", "ev"]}],
          "mark": {"type": "tick", "orient": "horizontal", "size": 8, "thickness": 1},
          "encoding": {
            "x": {"field": "atp", "type": "quantitative"},
            "y": {"field": "ev", "type": "quantitative"},
            "fill": {"field": "series", "type": "nominal", "scale": {"domain": ["ATP scaled down", "ATP", "ATP plus 20 µM Cd²⁺"], "range": ["#878787", "#1a1a1a", "#56b4e2"]}, "legend": null}
          }
        },
        {
          "data": {"name": "ptsD"},
          "mark": {"type": "point", "filled": true, "opacity": 1},
          "encoding": {
            "x": {"field": "atp", "type": "quantitative"},
            "y": {"field": "v", "type": "quantitative"},
            "color": {"field": "series", "type": "nominal", "scale": {"domain": ["ATP plus 20 µM Cd²⁺", "ATP", "ATP scaled down"], "range": ["#56b4e2", "#1a1a1a", "#878787"]},
                      "legend": {"orient": "none", "legendX": 357, "legendY": 70, "title": null, "labelFontSize": 19, "labelColor": "#000", "symbolSize": 150, "rowPadding": 15, "labelOffset": 10, "padding": 0, "labelLimit": 320}},
            "shape": {"field": "series", "type": "nominal", "scale": {"domain": ["ATP plus 20 µM Cd²⁺", "ATP", "ATP scaled down"], "range": ["square", "circle", "circle"]}},
            "size": {"field": "series", "type": "nominal", "scale": {"domain": ["ATP scaled down", "ATP plus 20 µM Cd²⁺", "ATP"], "range": [180, 140, 180]}, "legend": null}
          }
        }
      ]
    }
  ]
}
